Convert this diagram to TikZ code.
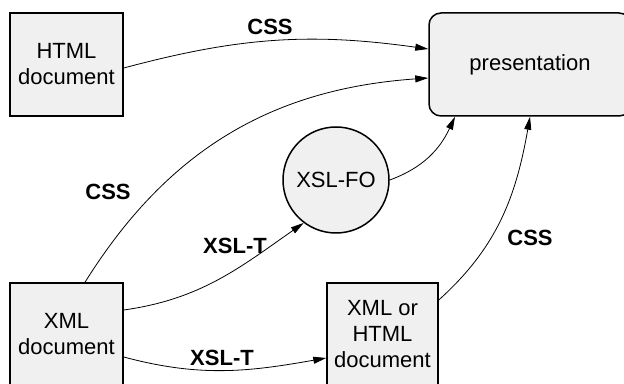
\documentclass[tikz,border=0pt]{standalone}
\usepackage{fontspec}
\setmainfont{Liberation Sans}
\usetikzlibrary{arrows.meta}
\tikzset{
  docbox/.style={draw, line width=1.5pt, fill=black!6, align=center, inner sep=0pt,
    minimum width=113pt, minimum height=103pt, font=\fontsize{22}{26}\selectfont},
  conn/.style={line width=0.8pt, -{Triangle[length=13pt, width=7pt]}},
  lbl/.style={font=\fontsize{22}{26}\selectfont\bfseries}
}
\begin{document}
\begin{tikzpicture}[x=1pt, y=1pt]
            \useasboundingbox (0,0) rectangle (624,383);
            \clip (0,0) rectangle (624,383);
            \node[docbox] (html) at (66.5,318.5) {HTML\\document};
            \node[docbox, rounded corners=12pt, minimum width=202pt] (pres) at (530,318.5) {presentation};
            \node[docbox, circle, minimum size=106pt] (fo) at (336,203) {XSL-FO};
            \node[docbox] (xml) at (66.5,48.5) {XML\\document};
            \node[docbox, minimum width=111pt] (xh) at (382.5,48.5) {XML or\\HTML\\document};
            \draw[conn] ([yshift=-3.5pt]html.east) to[out=15, in=172] ([yshift=15.5pt]pres.west);
            \draw[conn] ([xshift=18.5pt]xml.north) to[out=58, in=184] ([yshift=-13.5pt]pres.west);
            \draw[conn] ([yshift=24.5pt]xml.east) to[out=8, in=215] (fo.233);
            \draw[conn] (fo.east) to[out=20, in=245] ([xshift=-75pt]pres.south);
            \draw[conn] ([yshift=-22.5pt]xml.east) to[out=-15, in=190] ([yshift=-23.5pt]xh.west);
            \draw[conn] ([yshift=34.5pt]xh.east) to[out=42, in=260] ([xshift=0pt]pres.south);
            \node[lbl] at (270,356) {CSS};
            \node[lbl] at (108,191) {CSS};
            \node[lbl] at (235,137) {XSL-T};
            \node[lbl] at (222,25) {XSL-T};
            \node[lbl] at (530,145) {CSS};
        \end{tikzpicture}
\end{document}
